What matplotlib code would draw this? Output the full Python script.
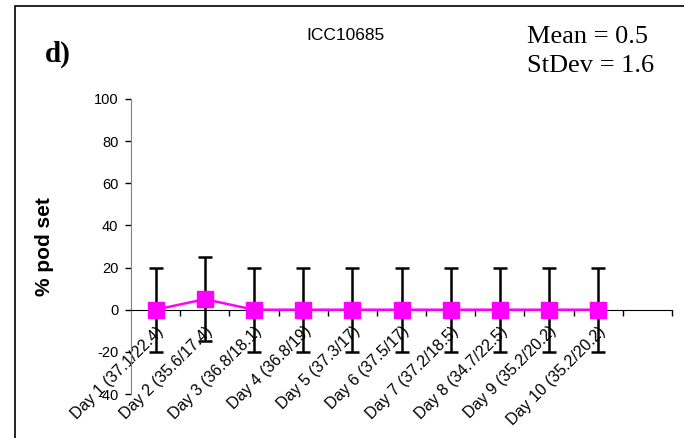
import matplotlib.pyplot as plt
from matplotlib.patches import Rectangle

plt.rcParams['axes.unicode_minus'] = False

# data
days = ['Day 1 (37.1/22.4)', 'Day 2 (35.6/17.4)', 'Day 3 (36.8/18.1)',
        'Day 4 (36.8/19)', 'Day 5 (37.3/17)', 'Day 6 (37.5/17)',
        'Day 7 (37.2/18.5)', 'Day 8 (34.7/22.5)', 'Day 9 (35.2/20.2)',
        'Day 10 (35.2/20.2)']
pod_set = [0, 5, 0, 0, 0, 0, 0, 0, 0, 0]
err = [20, 20, 20, 20, 20, 20, 20, 20, 20, 20]
yticks = [-40, -20, 0, 20, 40, 60, 80, 100]

W, H = 684, 438
fig = plt.figure(figsize=(W / 100, H / 100), dpi=100)
ax = fig.add_axes([131 / W, 1 - 394 / H, (672 - 131) / W, (394 - 99) / H])

x = list(range(len(days)))
ax.errorbar(x, pod_set, yerr=err, fmt='none', ecolor='black', elinewidth=1.8,
            capsize=5, capthick=1.8, zorder=2)
ax.plot(x, pod_set, color='#FF00FF', lw=1.8, marker='s', markersize=12,
        markeredgecolor='#FF00FF', zorder=3)

ax.set_xlim(-0.5, 10.5)
ax.set_ylim(-40, 100)
ax.set_yticks(yticks)
ax.tick_params(axis='y', labelsize=10.5, length=4, width=1, pad=5, colors='black')

ax.spines['top'].set_visible(False)
ax.spines['right'].set_visible(False)
ax.spines['left'].set_color('#808080')
ax.spines['bottom'].set_position(('data', 0))
ax.spines['bottom'].set_color('black')

ax.set_xticks(x)
ax.set_xticklabels(days, rotation=45, ha='right', rotation_mode='anchor',
                   fontsize=11.5)
ax.set_xticks([i + 0.5 for i in range(11)], minor=True)
ax.tick_params(axis='x', which='major', length=0, pad=10)
ax.tick_params(axis='x', which='minor', length=4, width=1)

ax.set_ylabel('% pod set', fontsize=15, fontweight='bold')
ax.yaxis.set_label_coords(-0.143, 0.5)

# chart border (runs off the right and bottom edges)
fig.patches.append(Rectangle((14.5 / W, -0.1), 1.2, 1.1 - 5.5 / H,
                             transform=fig.transFigure, fill=False,
                             edgecolor='black', lw=1.2))

serif = 'Liberation Serif'
fig.text(45 / W, 1 - 62 / H, 'd)', fontsize=21, fontweight='bold',
         family=serif, va='baseline')
fig.text(345 / W, 1 - 40 / H, 'ICC10685', fontsize=12.5,
         family='Liberation Sans', va='baseline', ha='center')
fig.text(527 / W, 1 - 43 / H, 'Mean = 0.5', fontsize=19, family=serif,
         va='baseline')
fig.text(527 / W, 1 - 72 / H, 'StDev = 1.6', fontsize=19, family=serif,
         va='baseline')

for t in ax.get_xticklabels() + ax.get_yticklabels():
    t.set_family('Liberation Sans')
ax.yaxis.label.set_family('Liberation Sans')

fig.savefig('out.png', dpi=100)
